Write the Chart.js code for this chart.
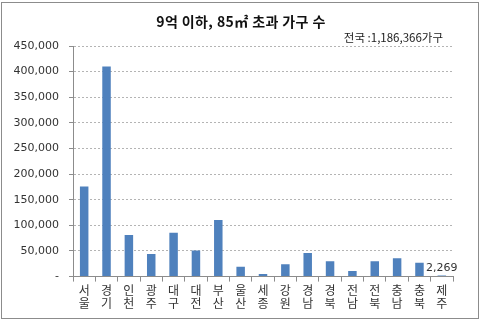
<!DOCTYPE html>
<html>
<head>
<meta charset="utf-8">
<script src="https://cdn.jsdelivr.net/npm/chart.js@4"></script>
<style>
  html, body { margin: 0; padding: 0; background: #fff; }
  #wrap { width: 483px; height: 321px; position: relative; }
</style>
</head>
<body>
<div id="wrap"><canvas id="chart"></canvas></div>
<script>
// Regions (two characters each, stacked vertically)
const regions = ["서울", "경기", "인천", "광주", "대구", "대전", "부산", "울산", "세종",
  "강원", "경남", "경북", "전남", "전북", "충남", "충북", "제주"];
// Households, <= 900M won and > 85m2
const households = [176000, 410000, 81000, 44000, 85500, 51000, 110500, 19000, 5000,
  24000, 46000, 30000, 11000, 30000, 36000, 27000, 2269];
const yTicks = [0, 50000, 100000, 150000, 200000, 250000, 300000, 350000, 400000, 450000];

const titleText = "9억 이하, 85㎡ 초과 가구 수";
const totalText = "전국 :1,186,366가구";
const labelledIndex = 16; // only Jeju carries a value label

const fmt = (v) => (v === 0 ? "-" : v.toLocaleString("en-US"));

// frame, title, total note and the single value label
const extrasPlugin = {
  id: "extras",
  beforeDraw(chart) {
    const ctx = chart.ctx;
    ctx.save();
    ctx.fillStyle = "#fff";
    ctx.fillRect(0, 0, chart.width, chart.height);
    ctx.strokeStyle = "#8c8c8c";
    ctx.lineWidth = 1;
    ctx.strokeRect(1.5, 2.5, 477, 316);
    ctx.restore();
  },
  afterDatasetsDraw(chart) {
    const ctx = chart.ctx;
    const area = chart.chartArea;
    ctx.save();
    ctx.fillStyle = "#111";
    ctx.font = "bold 14px 'Noto Sans CJK KR'";
    ctx.letterSpacing = "0.4px";
    ctx.textAlign = "center";
    ctx.textBaseline = "middle";
    ctx.fillText(titleText, 241, 22);
    ctx.letterSpacing = "0px";

    ctx.fillStyle = "#222";
    ctx.font = "11.5px 'Noto Sans CJK KR'";
    ctx.textAlign = "right";
    ctx.fillText(totalText, area.right - 10, 38);

    const bar = chart.getDatasetMeta(0).data[labelledIndex];
    ctx.fillStyle = "#333";
    ctx.font = "11px 'DejaVu Sans'";
    ctx.textAlign = "center";
    ctx.textBaseline = "bottom";
    ctx.fillText(fmt(households[labelledIndex]), bar.x, bar.y - 2);
    ctx.restore();
  },
};

const chart = new Chart(document.getElementById("chart"), {
  type: "bar",
  data: {
    labels: regions.map((r) => r.split("")),
    datasets: [
      {
        data: households,
        backgroundColor: "#4f81bd",
        categoryPercentage: 1,
        barPercentage: 0.38,
      },
    ],
  },
  options: {
    responsive: true,
    maintainAspectRatio: false,
    animation: false,
    layout: {
      padding: { left: 10, right: 30, top: 46, bottom: 9 },
    },
    plugins: {
      legend: { display: false },
      tooltip: { enabled: false },
      title: { display: false },
    },
    scales: {
      x: {
        grid: {
          display: true,
          drawOnChartArea: false,
          drawTicks: true,
          tickLength: 5,
          tickColor: "#8c8c8c",
        },
        border: { color: "#8c8c8c" },
        ticks: {
          color: "#333",
          padding: 2,
          maxRotation: 0,
          autoSkip: false,
          font: { family: "'Noto Sans CJK KR'", size: 12, lineHeight: 1.1 },
        },
      },
      y: {
        min: 0,
        max: 450000,
        afterFit(scale) {
          scale.width = 63;
        },
        afterBuildTicks(scale) {
          scale.ticks = yTicks.map((v) => ({ value: v }));
        },
        grid: {
          color: "#b4b4b4",
          tickColor: "#8c8c8c",
          tickLength: 4,
        },
        border: { color: "#8c8c8c", dash: [2, 2] },
        ticks: {
          color: "#333",
          padding: 10,
          font: { family: "'DejaVu Sans'", size: 11 },
          callback: (v) => fmt(v),
        },
      },
    },
  },
  plugins: [extrasPlugin],
});
</script>
</body>
</html>
